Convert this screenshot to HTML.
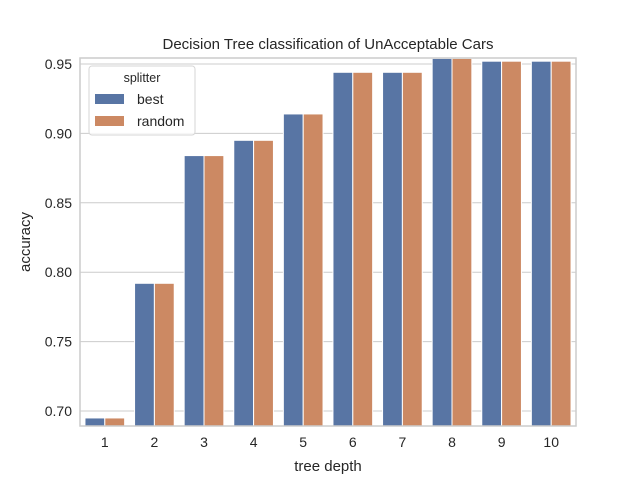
<!DOCTYPE html>
<html><head><style>
body{margin:0;background:#fff;font-family:"Liberation Sans",sans-serif;}
</style></head><body>
<svg id="c" width="640" height="480" xmlns="http://www.w3.org/2000/svg">
<rect width="640" height="480" fill="#fff"/>
<g id="grid"></g><g id="bars"></g><g id="axes"></g>
<text x="328" y="49" text-anchor="middle" font-size="15" fill="#262626">Decision Tree classification of UnAcceptable Cars</text>
<text x="328" y="471" text-anchor="middle" font-size="15" fill="#262626">tree depth</text>
<text transform="translate(30,242) rotate(-90)" text-anchor="middle" font-size="15" fill="#262626">accuracy</text>
<g>
<rect x="89" y="66" width="106" height="69" rx="3" fill="#fff" fill-opacity="0.8" stroke="#d6d6d6"/>
<text x="142" y="82" text-anchor="middle" font-size="12.5" fill="#262626">splitter</text>
<rect x="95" y="94" width="29" height="10" fill="#5875a4"/>
<text x="137" y="104" font-size="14" fill="#262626">best</text>
<rect x="95" y="116" width="29" height="10" fill="#cc8963"/>
<text x="137" y="126" font-size="14" fill="#262626">random</text>
</g>
</svg>
<script>
const categories=["1","2","3","4","5","6","7","8","9","10"];
const bestValues=[0.695,0.792,0.884,0.895,0.914,0.944,0.944,0.954,0.952,0.952];
const randomValues=[0.695,0.792,0.884,0.895,0.914,0.944,0.944,0.954,0.952,0.952];
const yTicks=[0.70,0.75,0.80,0.85,0.90,0.95];
const ns="http://www.w3.org/2000/svg";
const L=80,R=576,T=58,B=426,ymin=0.6892,ymax=0.9543;
const y=v=>B-(v-ymin)/(ymax-ymin)*(B-T);
const bw=(R-L)/categories.length;
const x=i=>L+bw*i;
function mk(t,a,p){const e=document.createElementNS(ns,t);for(const k in a)e.setAttribute(k,a[k]);p.appendChild(e);return e;}
const grid=document.getElementById('grid'),bars=document.getElementById('bars'),axes=document.getElementById('axes');
yTicks.forEach(t=>{
 const l=mk('line',{x1:L,x2:R,y1:y(t),y2:y(t),stroke:'#cccccc','stroke-width':1},grid);
 
 
 const tx=mk('text',{x:L-8,y:y(t)+5,'text-anchor':'end','font-size':'14','fill':'#262626'},axes);
 tx.textContent=t.toFixed(2);
 
 
});
const series=[[bestValues,'#5875a4','best'],[randomValues,'#cc8963','random']];
const gw=bw*0.8,sw=gw/2;
categories.forEach((c,i)=>{
 series.forEach(([vals,col,nm],j)=>{
  const bx=x(i)+bw*0.1+sw*j;
  const r=mk('rect',{x:bx,y:y(vals[i]),width:sw,height:B-y(vals[i]),fill:col,stroke:'#fff','stroke-width':1},bars);
  
  
 });
 const tx=mk('text',{x:x(i)+bw/2,y:B+21,'text-anchor':'middle','font-size':'14','fill':'#262626'},axes);
 tx.textContent=c;
 
 
});
const fr=mk('rect',{x:L,y:T,width:R-L,height:B-T,fill:'none',stroke:'#cccccc','stroke-width':1.5},axes);


</script>
</body></html>
